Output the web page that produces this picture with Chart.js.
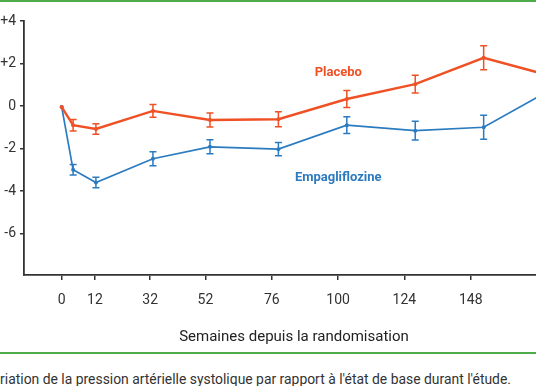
<!DOCTYPE html>
<html>
<head>
<meta charset="utf-8">
<script src="https://cdn.jsdelivr.net/npm/chart.js@4.4.1/dist/chart.umd.min.js"></script>
<style>
  html, body { margin: 0; padding: 0; background: #fff; width: 536px; height: 386px; overflow: hidden; }
  #wrap { position: absolute; left: 0; top: 0; width: 568px; height: 352px; }
  .rule { position: absolute; left: 0; width: 536px; height: 2px; background: #4dab4b; }
  #caption { position: absolute; left: -16px; top: 371px; font: 13.9px Roboto, sans-serif; color: #333; white-space: nowrap; line-height: 16px; }
</style>
</head>
<body>
<div class="rule" style="top:0"></div>
<div id="wrap"><canvas id="chart" width="568" height="352"></canvas></div>
<div class="rule" style="top:352px"></div>
<div id="caption">Variation de la pression artérielle systolique par rapport à l'état de base durant l'étude.</div>
<script>
// weeks since randomisation
const weeks = [0, 4, 12, 32, 52, 76, 100, 124, 148, 172];
const placebo    = [-0.05, -0.9, -1.08, -0.23, -0.66, -0.62, 0.33, 1.03, 2.27, 1.4];
const placeboErr = [0, 0.27, 0.25, 0.3, 0.33, 0.35, 0.4, 0.42, 0.56, 0.5];
const empa       = [-0.05, -3.0, -3.6, -2.48, -1.92, -2.03, -0.9, -1.16, -1.0, 0.8];
const empaErr    = [0, 0.25, 0.25, 0.33, 0.33, 0.31, 0.39, 0.44, 0.56, 0.5];
const tickWeeks = [0, 12, 32, 52, 76, 100, 124, 148];
const yTicks = [-6, -4, -2, 0, 2, 4];

const placeboColor = '#ef5125';
const empaColor = '#2b7bc0';
const axisColor = '#333';

const toPoints = vals => vals.map((v, i) => ({x: weeks[i], y: v}));

// error bars drawn from the same scales as the lines
const errorBars = {
  id: 'errorBars',
  afterDatasetsDraw(chart) {
    const ctx = chart.ctx;
    const xs = chart.scales.x, ys = chart.scales.y;
    const series = [[placebo, placeboErr, placeboColor], [empa, empaErr, empaColor]];
    ctx.save();
    ctx.lineWidth = 1.5;
    series.forEach(([vals, errs, color]) => {
      ctx.strokeStyle = color;
      vals.forEach((v, i) => {
        if (!errs[i]) return;
        const px = xs.getPixelForValue(weeks[i]);
        const top = ys.getPixelForValue(v + errs[i]);
        const bot = ys.getPixelForValue(v - errs[i]);
        ctx.beginPath();
        ctx.moveTo(px, top); ctx.lineTo(px, bot);
        ctx.moveTo(px - 3.5, top); ctx.lineTo(px + 3.5, top);
        ctx.moveTo(px - 3.5, bot); ctx.lineTo(px + 3.5, bot);
        ctx.stroke();
      });
    });
    ctx.restore();
  }
};

// series names written next to the curves
const seriesLabels = {
  id: 'seriesLabels',
  afterDraw(chart) {
    const ctx = chart.ctx;
    const xs = chart.scales.x, ys = chart.scales.y;
    ctx.save();
    ctx.font = 'bold 13px Roboto, sans-serif';
    ctx.textAlign = 'center';
    ctx.textBaseline = 'middle';
    ctx.fillStyle = placeboColor;
    ctx.fillText('Placebo', xs.getPixelForValue(97), ys.getPixelForValue(1.57));
    ctx.fillStyle = empaColor;
    ctx.fillText('Empagliflozine', xs.getPixelForValue(97), ys.getPixelForValue(-3.39));
    ctx.restore();
  }
};

new Chart(document.getElementById('chart'), {
  type: 'line',
  data: {
    datasets: [
      {
        label: 'Placebo',
        data: toPoints(placebo),
        borderColor: placeboColor,
        backgroundColor: placeboColor,
        borderWidth: 2.4,
        pointRadius: 2,
        pointBorderWidth: 0,
        tension: 0
      },
      {
        label: 'Empagliflozine',
        data: toPoints(empa),
        borderColor: empaColor,
        backgroundColor: empaColor,
        borderWidth: 1.7,
        pointRadius: 2,
        pointBorderWidth: 0,
        tension: 0
      }
    ]
  },
  options: {
    responsive: false,
    animation: false,
    layout: { padding: { top: 21, left: 0, right: 0, bottom: 0 } },
    plugins: { legend: { display: false }, tooltip: { enabled: false } },
    scales: {
      x: {
        type: 'linear',
        display: false,
        min: -13.23,
        max: 176.18
      },
      xt: {
        type: 'linear',
        position: 'bottom',
        min: -13.65,
        max: 181.75,
        afterBuildTicks: s => { s.ticks = tickWeeks.map(v => ({value: v})); },
        afterFit: s => { s.height = 77; },
        ticks: {
          autoSkip: false,
          maxRotation: 0,
          padding: 12,
          color: axisColor,
          font: { family: 'Roboto', size: 14 }
        },
        grid: { drawOnChartArea: false, tickLength: 5, color: axisColor, lineWidth: 1.5 },
        border: { color: axisColor, width: 1.8 },
        title: {
          display: true,
          text: 'Semaines depuis la randomisation',
          color: '#222',
          font: { family: 'Roboto', size: 15 },
          padding: { top: 0, bottom: 6 }
        }
      },
      y: {
        min: -7.95,
        max: 4,
        afterBuildTicks: s => { s.ticks = yTicks.map(v => ({value: v})); },
        afterFit: s => { s.width = 24; },
        ticks: {
          padding: 4,
          color: axisColor,
          font: { family: 'Roboto', size: 14 },
          callback: v => (v > 0 ? '+' + v : String(v))
        },
        grid: { drawOnChartArea: false, tickLength: 4, color: axisColor, lineWidth: 1.5 },
        border: { color: axisColor, width: 1.8 }
      }
    }
  },
  plugins: [errorBars, seriesLabels]
});
</script>
</body>
</html>
